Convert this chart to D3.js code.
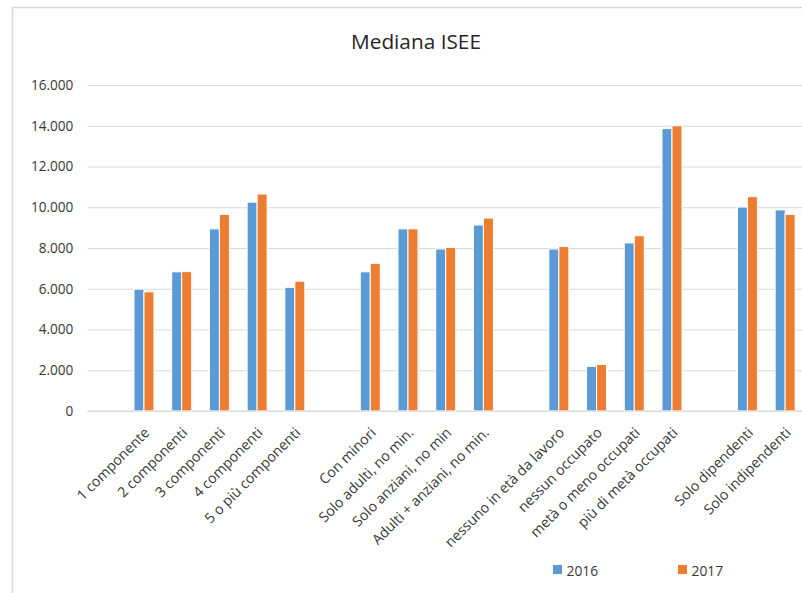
<!DOCTYPE html>
<html>
<head>
<meta charset="utf-8">
<script src="https://cdn.jsdelivr.net/npm/d3@7"></script>
<style>
	html, body { margin: 0; padding: 0; background: #fff; }
	svg { display: block; font-family: "Open Sans", sans-serif; }
</style>
</head>
<body>
<svg id="chart" width="802" height="593"></svg>
<script>

	// Data (empty labels are the spacer slots between the groups)
	var categories = ["", "1 componente", "2 componenti", "3 componenti", "4 componenti", "5 o più componenti",
		"", "Con minori", "Solo adulti, no min.", "Solo anziani, no min", "Adulti + anziani, no min.",
		"", "nessuno in età da lavoro", "nessun occupato", "metà o meno occupati", "più di metà occupati",
		"", "Solo dipendenti", "Solo indipendenti"];

	var values2016 = [null, 5980, 6830, 8940, 10250, 6070,
		null, 6830, 8940, 7950, 9130,
		null, 7950, 2190, 8250, 13860,
		null, 10010, 9870];

	var values2017 = [null, 5850, 6840, 9650, 10650, 6370,
		null, 7250, 8940, 8030, 9470,
		null, 8070, 2280, 8600, 14000,
		null, 10520, 9650];

	var seriesNames = ["2016", "2017"];
	var seriesColors = ["#5b9bd5", "#ed7d31"];
	var yTicks = [0, 2000, 4000, 6000, 8000, 10000, 12000, 14000, 16000];

	var svg = d3.select("#chart");

	// Italian number format: 16.000
	var it = d3.formatLocale({ decimal: ",", thousands: ".", grouping: [3], currency: ["€", ""] });
	var fmt = it.format(",d");

	var textColor = "#383838";

	//////////////////////////////////////////////
	//            Scales                        //
	//////////////////////////////////////////////

	var x = d3.scaleBand()
		.domain(d3.range(categories.length))
		.range([87.4, 804])
		.paddingInner(0.47)
		.paddingOuter(0.235);

	var x1 = d3.scaleBand()
		.domain(seriesNames)
		.range([0, x.bandwidth()]);

	var y = d3.scaleLinear()
		.domain([0, 16000])
		.range([411, 85]);

	// chart frame (only top and left edges are visible)
	svg.append("rect")
		.attr("x", 12.5).attr("y", 7.5)
		.attr("width", 900).attr("height", 700)
		.attr("fill", "none")
		.attr("stroke", "#d9d9d9")
		.attr("stroke-width", 1.5);

	// title
	svg.append("text")
		.attr("x", 416).attr("y", 48.5)
		.attr("text-anchor", "middle")
		.attr("font-size", "20.8px")
		.attr("fill", "#262626")
		.text("Mediana ISEE");

	//////////////////////////////////////////////
	//            Axes and grid                 //
	//////////////////////////////////////////////

	var yAxis = svg.append("g")
		.attr("transform", "translate(87.4,0)")
		.call(d3.axisLeft(y).tickValues(yTicks).tickFormat(fmt).tickSize(-716.6).tickPadding(14));

	yAxis.select(".domain").remove();
	yAxis.selectAll(".tick line").attr("stroke", "#d9d9d9").attr("stroke-width", 1);
	yAxis.selectAll(".tick text")
		.attr("font-size", "13.6px")
		.attr("font-family", "Open Sans, sans-serif")
		.attr("fill", textColor);

	var xAxis = svg.append("g")
		.attr("transform", "translate(0," + y(0) + ")")
		.call(d3.axisBottom(x).tickSize(0).tickFormat(function(i) { return categories[i]; }));

	xAxis.select(".domain").remove();
	xAxis.selectAll(".tick text")
		.attr("font-size", "14.2px")
		.attr("font-family", "Open Sans, sans-serif")
		.attr("fill", textColor)
		.attr("text-anchor", "end")
		.attr("x", 0).attr("y", 0).attr("dy", "0.35em")
		.attr("transform", "translate(3,19) rotate(-45)");

	//////////////////////////////////////////////
	//            Bars                          //
	//////////////////////////////////////////////

	var seriesValues = [values2016, values2017];

	seriesNames.forEach(function(name, s) {
		var vals = seriesValues[s];
		svg.append("g")
			.selectAll("rect")
			.data(d3.range(categories.length).filter(function(i) { return vals[i] != null; }))
			.join("rect")
				.attr("x", function(i) { return x(i) + x1(name); })
				.attr("y", function(i) { return y(vals[i]); })
				.attr("width", x1.bandwidth())
				.attr("height", function(i) { return y(0) - y(vals[i]); })
				.attr("fill", seriesColors[s])
				.attr("stroke", "#fff")
				.attr("stroke-width", 1);
	});

	// zero line over the bars
	svg.append("line")
		.attr("x1", 87.4).attr("x2", 804)
		.attr("y1", y(0)).attr("y2", y(0))
		.attr("stroke", "#d9d9d9").attr("stroke-width", 1);

	//////////////////////////////////////////////
	//            Legend                        //
	//////////////////////////////////////////////

	var legendX = [553, 678];
	var legend = svg.append("g")
		.selectAll("g")
		.data(seriesNames)
		.join("g")
			.attr("transform", function(d, i) { return "translate(" + legendX[i] + ",565)"; });

	legend.append("rect")
		.attr("width", 9).attr("height", 9)
		.attr("fill", function(d, i) { return seriesColors[i]; });

	legend.append("text")
		.attr("x", 13.5).attr("y", 10.5)
		.attr("font-size", "13.8px")
		.attr("fill", textColor)
		.text(function(d) { return d; });

</script>
</body>
</html>
